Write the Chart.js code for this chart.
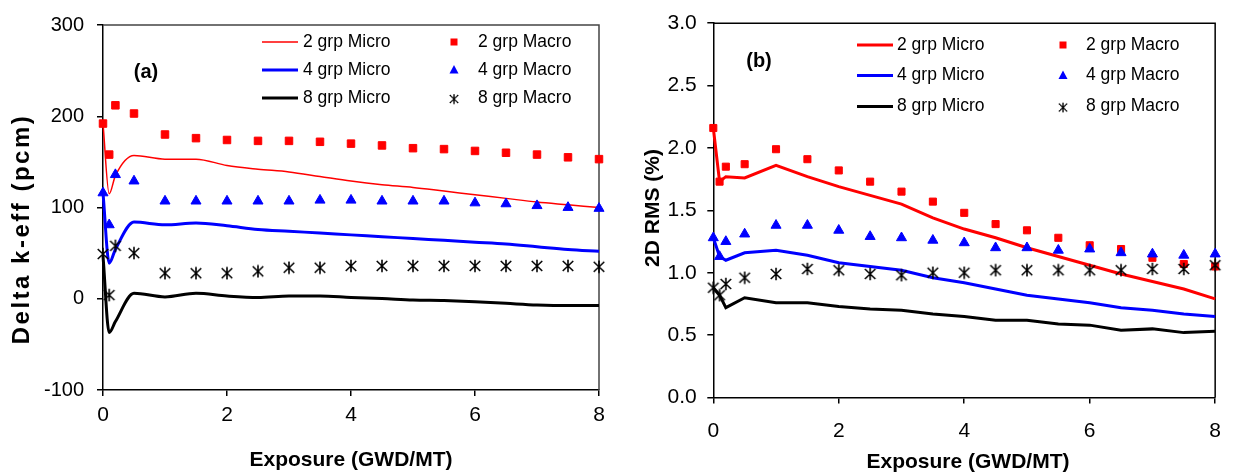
<!DOCTYPE html>
<html>
<head>
<meta charset="utf-8">
<script src="https://cdn.jsdelivr.net/npm/chart.js@4.4.1/dist/chart.umd.min.js"></script>
<style>
  html, body { margin: 0; padding: 0; background: #fff; }
  canvas { position: absolute; top: 0; }
  #chartA { left: 0; }
  #chartB { left: 618px; }
</style>
</head>
<body>
<canvas id="chartA" width="618" height="474"></canvas>
<canvas id="chartB" width="618" height="474"></canvas>
<script>
// burnup points, same for every series
var exposure = [0, 0.1, 0.2, 0.5, 1, 1.5, 2, 2.5, 3, 3.5, 4, 4.5, 5, 5.5, 6, 6.5, 7, 7.5, 8];
var xTicks = [0, 2, 4, 6, 8];
var seriesNames = ['2 grp Micro', '4 grp Micro', '8 grp Micro', '2 grp Macro', '4 grp Macro', '8 grp Macro'];

// (a) Delta k-eff (pcm)
var microA2 = [192, 115, 135, 157, 153, 153, 146, 142, 139, 134, 129, 125, 122, 118, 114, 110, 106, 103, 100];
var microA4 = [116, 39, 54, 84, 81, 83, 80, 76, 74, 72, 70, 68, 66, 64, 62, 60, 57, 54, 52];
var microA8 = [47, -37, -25, 6, 2, 6, 3, 1.4, 3, 3, 1.4, 0.2, -1.4, -2, -3.2, -5, -6.8, -7.5, -7.5];
var macroA2 = [192, 158, 212, 203, 180, 176, 174, 173, 173, 172, 170, 168, 165, 164, 162, 160, 158, 155, 153];
var macroA4 = [116, 81, 136, 129, 107, 107, 107, 107, 107, 108, 108, 107, 107, 107, 105, 104, 102, 100, 99];
var macroA8 = [49, 4, 58, 50, 28, 28, 28, 30, 34, 34, 36, 36, 36, 36, 36, 36, 36, 36, 35];
var yTicksA = [-100, 0, 100, 200, 300];

// (b) 2D RMS (%)
var microB2 = [2.16, 1.73, 1.77, 1.76, 1.86, 1.77, 1.69, 1.62, 1.55, 1.44, 1.35, 1.28, 1.20, 1.13, 1.06, 0.99, 0.93, 0.87, 0.79];
var microB4 = [1.28, 1.13, 1.10, 1.16, 1.18, 1.14, 1.08, 1.05, 1.02, 0.96, 0.92, 0.87, 0.82, 0.79, 0.76, 0.72, 0.70, 0.67, 0.65];
var microB8 = [0.88, 0.82, 0.72, 0.80, 0.76, 0.76, 0.73, 0.71, 0.70, 0.67, 0.65, 0.62, 0.62, 0.59, 0.58, 0.54, 0.55, 0.52, 0.53];
var macroB2 = [2.16, 1.73, 1.85, 1.87, 1.99, 1.91, 1.82, 1.73, 1.65, 1.57, 1.48, 1.39, 1.34, 1.28, 1.22, 1.19, 1.12, 1.07, 1.05];
var macroB4 = [1.28, 1.13, 1.25, 1.31, 1.38, 1.38, 1.34, 1.29, 1.28, 1.26, 1.24, 1.20, 1.20, 1.18, 1.19, 1.16, 1.15, 1.14, 1.15];
var macroB8 = [0.88, 0.82, 0.91, 0.96, 0.99, 1.03, 1.02, 0.99, 0.98, 1.00, 1.00, 1.02, 1.02, 1.02, 1.02, 1.02, 1.03, 1.03, 1.06];
var yTicksB = [0, 0.5, 1.0, 1.5, 2.0, 2.5, 3.0];

var FONT = '"Liberation Sans", Arial, sans-serif';

function pts(ys) {
  return exposure.map(function (x, i) { return { x: x, y: ys[i] }; });
}

// excel style asterisk: X with a vertical bar
function makeStar(size) {
  var c = document.createElement('canvas');
  c.width = size; c.height = size;
  var g = c.getContext('2d');
  var m = size / 2, r = size / 2 - 0.8;
  g.strokeStyle = '#000';
  g.lineWidth = 1.6;
  g.beginPath();
  g.moveTo(m, m - r); g.lineTo(m, m + r);
  g.moveTo(m - r * 0.85, m - r * 0.8); g.lineTo(m + r * 0.85, m + r * 0.8);
  g.moveTo(m + r * 0.85, m - r * 0.8); g.lineTo(m - r * 0.85, m + r * 0.8);
  g.stroke();
  return c;
}
var star = makeStar(14);

function lineSet(label, ys, color, width, smooth, order) {
  return {
    label: label, data: pts(ys), showLine: true,
    borderColor: color, backgroundColor: color, borderWidth: width,
    pointRadius: 0, cubicInterpolationMode: smooth ? 'monotone' : 'default',
    tension: 0, order: order, clip: false
  };
}
function markSet(label, ys, style, color, radius, order) {
  return {
    label: label, data: pts(ys), showLine: false,
    pointStyle: style, pointRadius: radius,
    backgroundColor: color, borderColor: color, pointBorderWidth: 1,
    order: order, clip: false
  };
}

function decor(o) {
  return {
    id: 'decor',
    beforeDatasetsDraw: function (chart) {
      var ctx = chart.ctx, a = chart.chartArea;
      ctx.save();
      ctx.strokeStyle = o.frameColor;
      ctx.lineWidth = 1.5;
      ctx.beginPath();
      ctx.moveTo(a.left, a.top);
      ctx.lineTo(a.right, a.top);
      ctx.lineTo(a.right, a.bottom);
      ctx.stroke();
      ctx.restore();
    },
    afterDraw: function (chart) {
      var ctx = chart.ctx;
      var ds = chart.data.datasets;
      ctx.save();
      ctx.fillStyle = '#000';
      ctx.textBaseline = 'middle';
      // axis titles
      ctx.font = 'bold 21px ' + FONT;
      ctx.textAlign = 'center';
      ctx.fillText(o.xTitle, o.xTitlePos[0], o.xTitlePos[1]);
      ctx.save();
      ctx.translate(o.yTitlePos[0], o.yTitlePos[1]);
      ctx.rotate(-Math.PI / 2);
      ctx.font = 'bold ' + o.yTitleSize + 'px ' + FONT;
      ctx.letterSpacing = o.yTitleSpacing;
      ctx.fillText(o.yTitle, 0, 0);
      ctx.restore();
      // panel tag
      ctx.font = 'bold 20px ' + FONT;
      ctx.fillText(o.tag, o.tagPos[0], o.tagPos[1]);
      // legend, two columns
      ctx.font = '17.5px ' + FONT;
      ctx.textAlign = 'left';
      for (var i = 0; i < 3; i++) {
        var y = o.legRows[i];
        var l = ds[i];
        ctx.strokeStyle = l.borderColor;
        ctx.lineWidth = l.borderWidth;
        ctx.beginPath();
        ctx.moveTo(o.legLine[0], y); ctx.lineTo(o.legLine[1], y);
        ctx.stroke();
        ctx.fillText(l.label, o.legText1, y);
        var m = ds[i + 3];
        var mx = o.legMark;
        ctx.fillStyle = m.backgroundColor;
        if (m.pointStyle === 'rect') {
          ctx.fillRect(mx - 3.5, y - 3.5, 7, 7);
        } else if (m.pointStyle === 'triangle') {
          ctx.beginPath();
          ctx.moveTo(mx, y - 5); ctx.lineTo(mx + 4.5, y + 3.5); ctx.lineTo(mx - 4.5, y + 3.5);
          ctx.closePath(); ctx.fill();
        } else {
          ctx.drawImage(star, mx - 5.5, y - 4.5, 11, 11);
        }
        ctx.fillStyle = '#000';
        ctx.fillText(m.label, o.legText2, y);
      }
      ctx.restore();
    }
  };
}

function makeChart(id, sets, yTicks, box, ticksFont, o, fmt) {
  var ctx = document.getElementById(id).getContext('2d');
  return new Chart(ctx, {
    type: 'scatter',
    data: { datasets: sets },
    options: {
      responsive: false,
      animation: false,
      events: [],
      layout: { padding: { left: 0, top: box.top, right: box.right, bottom: 0 } },
      plugins: { legend: { display: false }, tooltip: { enabled: false } },
      scales: {
        x: {
          type: 'linear', min: xTicks[0], max: xTicks[xTicks.length - 1],
          afterBuildTicks: function (s) { s.ticks = xTicks.map(function (v) { return { value: v }; }); },
          afterFit: function (s) { s.height = box.xh; },
          border: { display: true, color: '#000', width: 1.5 },
          grid: { drawOnChartArea: false, drawTicks: true, tickLength: 6, color: '#000', lineWidth: 1.5 },
          ticks: { color: '#000', font: { family: FONT, size: ticksFont.x }, padding: box.xpad, maxRotation: 0 }
        },
        y: {
          type: 'linear', min: yTicks[0], max: yTicks[yTicks.length - 1],
          afterBuildTicks: function (s) { s.ticks = yTicks.map(function (v) { return { value: v }; }); },
          afterFit: function (s) { s.width = box.yw; },
          border: { display: true, color: '#000', width: 1.5 },
          grid: { drawOnChartArea: false, drawTicks: true, tickLength: 6, color: '#000', lineWidth: 1.5 },
          ticks: { color: '#000', font: { family: FONT, size: ticksFont.y }, padding: box.ypad, callback: fmt }
        }
      }
    },
    plugins: [decor(o)]
  });
}

var chartA = makeChart('chartA', [
  lineSet(seriesNames[0], microA2, '#ff0000', 1.5, true, 6),
  lineSet(seriesNames[1], microA4, '#0000ff', 3, true, 5),
  lineSet(seriesNames[2], microA8, '#000000', 3, true, 4),
  markSet(seriesNames[3], macroA2, 'rect', '#ff0000', 5.3, 3),
  markSet(seriesNames[4], macroA4, 'triangle', '#0000ff', 5.8, 2),
  markSet(seriesNames[5], macroA8, star, '#000000', 6, 1)
], yTicksA, { top: 17, right: 19, xh: 84, yw: 103, xpad: 7, ypad: 13 }, { x: 21, y: 20 }, {
  frameColor: '#444', xTitle: 'Exposure (GWD/MT)', xTitlePos: [351, 460],
  yTitle: 'Delta k-eff (pcm)', yTitlePos: [22, 229], yTitleSize: 24, yTitleSpacing: '2.5px',
  tag: '(a)', tagPos: [146, 72],
  legRows: [42, 70, 98], legLine: [262, 298], legText1: 303, legMark: 454, legText2: 478
}, function (v) { return v; });

var chartB = makeChart('chartB', [
  lineSet(seriesNames[0], microB2, '#ff0000', 3, false, 6),
  lineSet(seriesNames[1], microB4, '#0000ff', 3, false, 5),
  lineSet(seriesNames[2], microB8, '#000000', 3, false, 4),
  markSet(seriesNames[3], macroB2, 'rect', '#ff0000', 5, 3),
  markSet(seriesNames[4], macroB4, 'triangle', '#0000ff', 5.8, 2),
  markSet(seriesNames[5], macroB8, star, '#000000', 6, 1)
], yTicksB, { top: 23, right: 12, xh: 76.5, yw: 95.3, xpad: 15, ypad: 10.6 }, { x: 21, y: 21 }, {
  frameColor: '#000', xTitle: 'Exposure (GWD/MT)', xTitlePos: [350, 462],
  yTitle: '2D RMS (%)', yTitlePos: [35, 208], yTitleSize: 21, yTitleSpacing: '0px',
  tag: '(b)', tagPos: [141, 61],
  legRows: [45, 75.5, 106.5], legLine: [239, 275], legText1: 279, legMark: 445, legText2: 468
}, function (v) { return v.toFixed(1); });
</script>
</body>
</html>
